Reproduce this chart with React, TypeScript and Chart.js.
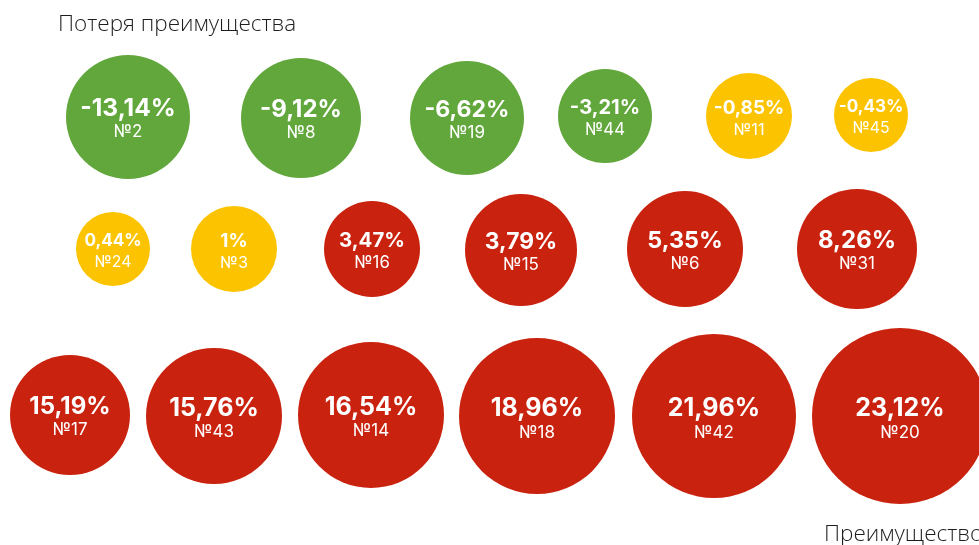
import React, { useEffect, useRef } from "react";
import { Chart, registerables } from "chart.js";
Chart.register(...registerables);

const ids = ["№2", "№8", "№19", "№44", "№11", "№45", "№24", "№3", "№16", "№15", "№6", "№31", "№17", "№43", "№14", "№18", "№42", "№20"];
const values = [-13.14, -9.12, -6.62, -3.21, -0.85, -0.43, 0.44, 1, 3.47, 3.79, 5.35, 8.26, 15.19, 15.76, 16.54, 18.96, 21.96, 23.12];
const xPos = [128, 301, 467, 605, 749, 871, 113, 234, 372, 521, 685, 857, 70, 214, 371, 537, 714, 900];
const yPos = [117, 118, 118, 116, 116, 115, 249, 249, 249, 250, 249, 249, 415, 416, 415, 416, 416, 416];
const sizes = [62, 60, 57, 47, 43, 37, 37, 43, 48, 56, 58, 60, 60, 68, 73, 78, 82, 88];

const GREEN = "#62a73c";
const YELLOW = "#fcc400";
const RED = "#c9220f";

const colorFor = (v: number) => (v < -1 ? GREEN : v <= 1 ? YELLOW : RED);
const fmt = (v: number) => String(v).replace(".", ",") + "%";

const labelPlugin = {
  id: "bubbleLabels",
  afterDatasetsDraw(chart: any) {
    const ctx = chart.ctx;
    const meta = chart.getDatasetMeta(0);
    ctx.save();
    ctx.fillStyle = "#ffffff";
    ctx.textAlign = "center";
    ctx.textBaseline = "middle";
    meta.data.forEach((el: any, i: number) => {
      const r = el.options.radius;
      const fs1 = Math.min(25, 6 + r * 0.3);
      const fs2 = Math.min(17, 12.5 + r * 0.09);
      ctx.font = `700 ${fs1}px Inter, "Open Sans", sans-serif`;
      ctx.fillText(fmt(values[i]), el.x, el.y - 8);
      ctx.font = `400 ${fs2}px Inter, "Open Sans", sans-serif`;
      ctx.fillText(ids[i], el.x, el.y + 11 + r * 0.07);
    });
    ctx.restore();
  },
};

export default function App() {
  const ref = useRef<HTMLCanvasElement | null>(null);
  useEffect(() => {
    document.body.style.margin = "0";
    const chart = new Chart(ref.current as HTMLCanvasElement, {
      type: "bubble",
      data: {
        datasets: [
          {
            data: values.map((v, i) => ({ x: xPos[i], y: yPos[i], r: sizes[i] })),
            backgroundColor: values.map(colorFor),
            borderWidth: 0,
            hoverRadius: 0,
          },
        ],
      },
      options: {
        animation: false,
        responsive: false,
        layout: { padding: 0, autoPadding: false },
        plugins: { legend: { display: false }, tooltip: { enabled: false } },
        scales: {
          x: { type: "linear", min: 0, max: 979, display: false },
          y: { type: "linear", min: 0, max: 545, reverse: true, display: false },
        },
        clip: false as any,
      },
      plugins: [labelPlugin],
    });
    return () => chart.destroy();
  }, []);
  const corner = {
    position: "absolute" as const,
    fontFamily: '"Open Sans", sans-serif',
    fontWeight: 300,
    fontSize: 22.5,
    color: "#1e1e1e",
    whiteSpace: "nowrap" as const,
  };
  return (
    <div style={{ position: "relative", width: 979, height: 545, overflow: "hidden", background: "#fff" }}>
      <canvas ref={ref} width={979} height={545} style={{ position: "absolute", left: 0, top: 0 }} />
      <div style={{ ...corner, left: 58, top: 7 }}>Потеря преимущества</div>
      <div style={{ ...corner, left: 824, top: 517 }}>Преимущество</div>
    </div>
  );
}
